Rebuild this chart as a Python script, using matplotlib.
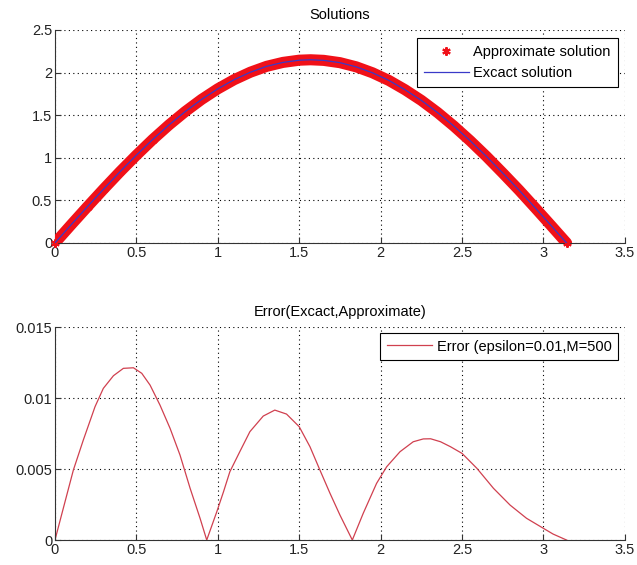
import numpy as np
import matplotlib.pyplot as plt

plt.rcParams['font.family'] = ['Liberation Sans', 'DejaVu Sans']
plt.rcParams['font.size'] = 10.5

# values
x_sol = [0.0, 0.1, 0.2, 0.3, 0.4, 0.5, 0.6, 0.7, 0.8, 0.9, 1.0, 1.1, 1.2, 1.3,
         1.4, 1.5, 1.57, 1.65, 1.75, 1.85, 1.95, 2.05, 2.15, 2.25, 2.35, 2.45,
         2.55, 2.65, 2.75, 2.85, 2.95, 3.05, 3.1416]
y_sol = [0.0, 0.215, 0.427, 0.635, 0.837, 1.03, 1.214, 1.385, 1.542, 1.684,
         1.809, 1.916, 2.004, 2.073, 2.119, 2.145, 2.15, 2.143, 2.116, 2.067,
         1.997, 1.908, 1.798, 1.673, 1.530, 1.371, 1.199, 1.015, 0.82, 0.62,
         0.41, 0.197, 0.0]
# the approximate solution sits on top of the exact one at this scale
y_approx = y_sol

x_err = [0.0, 0.051, 0.113, 0.174, 0.246, 0.297, 0.359, 0.42, 0.482, 0.533,
         0.584, 0.645, 0.707, 0.768, 0.83, 0.891, 0.932, 0.994, 1.035, 1.074,
         1.135, 1.197, 1.279, 1.35, 1.422, 1.5, 1.566, 1.627, 1.689, 1.75,
         1.826, 1.893, 1.975, 2.037, 2.119, 2.2, 2.262, 2.307, 2.368, 2.429,
         2.5, 2.591, 2.693, 2.795, 2.896, 3.0, 3.059, 3.1416]
y_err = [0.0, 0.00223, 0.00493, 0.00704, 0.00939, 0.01068, 0.01157, 0.01209,
         0.01213, 0.01174, 0.01091, 0.0095, 0.00786, 0.00598, 0.00364, 0.00153,
         0.0, 0.002, 0.0034, 0.00481, 0.00622, 0.00763, 0.00873, 0.00915,
         0.00887, 0.00798, 0.00657, 0.00493, 0.00329, 0.00176, 0.0, 0.00188,
         0.00399, 0.00516, 0.00622, 0.00692, 0.00712, 0.00713, 0.00692,
         0.00657, 0.0061, 0.00505, 0.00364, 0.00246, 0.00153, 0.00082,
         0.00042, 0.0]

x_ticks = [0, 0.5, 1, 1.5, 2, 2.5, 3, 3.5]
x_ticklabels = ['0', '0.5', '1', '1.5', '2', '2.5', '3', '3.5']
y1_ticks = [0, 0.5, 1, 1.5, 2, 2.5]
y1_ticklabels = ['0', '0.5', '1', '1.5', '2', '2.5']
y2_ticks = [0, 0.005, 0.01, 0.015]
y2_ticklabels = ['0', '0.005', '0.01', '0.015']

fig = plt.figure(figsize=(6.37, 5.65), dpi=100)
ax1 = fig.add_axes([0.0863, 0.570, 0.8947, 0.377])
ax2 = fig.add_axes([0.0863, 0.0442, 0.8947, 0.377])


def style(ax, yt, ytl):
    ax.set_xlim(0, 3.5)
    ax.set_ylim(yt[0], yt[-1])
    ax.set_xticks(x_ticks)
    ax.set_xticklabels(x_ticklabels)
    ax.set_yticks(yt)
    ax.set_yticklabels(ytl)
    ax.spines['top'].set_visible(False)
    ax.spines['right'].set_visible(False)
    for s in ['left', 'bottom']:
        ax.spines[s].set_color('#333333')
        ax.spines[s].set_linewidth(0.8)
    ax.tick_params(direction='in', length=4, width=0.8, color='#333333',
                   labelcolor='#222222', pad=2)
    ax.grid(True, color='black', linestyle=(0, (1, 3)), linewidth=0.8)
    ax.set_axisbelow(True)


style(ax1, y1_ticks, y1_ticklabels)
# thick band of overlapping asterisk markers (MATLAB '*')
ax1.plot(x_sol, y_approx, '-', color='#f01018', linewidth=8,
         solid_capstyle='round', solid_joinstyle='round', zorder=3)
ax1.plot(x_sol, y_approx, marker=(6, 2, 0), color='#f01018', markersize=6,
         markeredgewidth=1.5, linestyle='none',
         label='Approximate solution', zorder=3, clip_on=False)
ax1.plot(x_sol, y_sol, '-', color='#3a3ac8', linewidth=0.9,
         label='Excact solution', zorder=4)
ax1.set_title('Solutions', fontsize=10.5, pad=8)
leg1 = ax1.legend(loc='upper right', bbox_to_anchor=(0.988, 0.962),
                  borderaxespad=0, fancybox=False, framealpha=1,
                  edgecolor='black', handlelength=3.1, handletextpad=0.3,
                  borderpad=0.5, labelspacing=0.45, markerscale=1.0)
leg1.get_frame().set_linewidth(0.8)

style(ax2, y2_ticks, y2_ticklabels)
ax2.plot(x_err, y_err, '-', color='#d0404f', linewidth=0.9,
         label='Error (epsilon=0.01,M=500')
ax2.set_title('Error(Excact,Approximate)', fontsize=10.5, pad=8)
leg2 = ax2.legend(loc='upper right', bbox_to_anchor=(0.988, 0.972),
                  borderaxespad=0, fancybox=False, framealpha=1,
                  edgecolor='black', handlelength=3.1, handletextpad=0.3,
                  borderpad=0.45)
leg2.get_frame().set_linewidth(0.8)

fig.savefig('out.png', dpi=100)
